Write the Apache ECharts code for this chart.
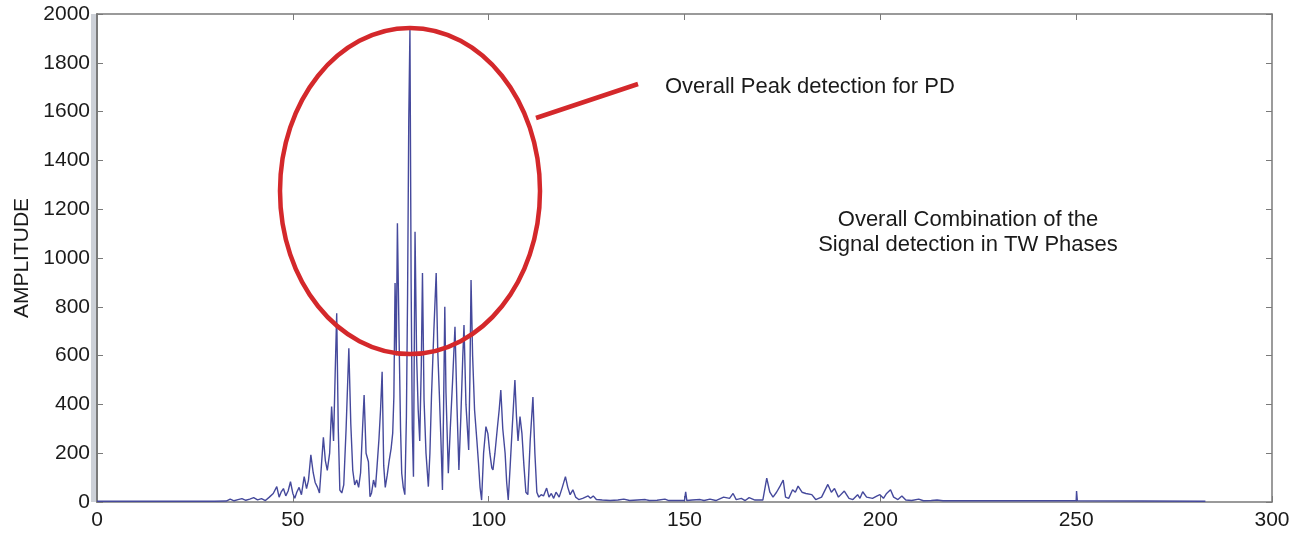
<!DOCTYPE html>
<html>
<head>
<meta charset="utf-8">
<script src="https://cdn.jsdelivr.net/npm/echarts@6/dist/echarts.min.js"></script>
<style>
html,body{margin:0;padding:0;background:#fff;}
#chart{width:1296px;height:535px;}
</style>
</head>
<body>
<div id="chart"></div>
<script>
// x positions of the samples
var sigX = [0,10,20,30,33,34,35,36,37,38,39,40,41,42,43,44,45,45.9,46.5,47,47.6,48.2,48.8,49.4,50,50.5,51,51.6,52.2,52.9,53.5,54,54.6,55.2,55.7,56.3,56.8,57.3,57.8,58.3,58.8,59.4,59.9,60.4,60.8,61.2,61.6,62,62.5,63,63.6,64.3,64.8,65.3,65.8,66.3,66.8,67.3,67.8,68.2,68.7,69.3,69.7,70.1,70.6,71.1,71.5,72,72.4,72.8,73.2,73.6,74.1,74.6,75.1,75.5,75.8,76.1,76.4,76.7,77.1,77.5,77.8,78.2,78.6,79,79.3,79.6,79.9,80.2,80.5,80.8,81.2,81.6,82,82.4,82.8,83.1,83.5,84,84.6,85,85.4,86,86.6,87,87.4,87.8,88.2,88.5,88.8,89.1,89.7,90.2,90.8,91.4,91.9,92.4,92.9,93.4,93.7,94.2,94.9,95.2,95.5,95.9,96.4,97,97.4,97.8,98.2,98.7,99.3,99.8,100.3,100.8,101.1,101.6,102.2,102.7,103.1,103.6,104.2,104.6,105,105.5,106,106.7,107.1,107.5,108,108.5,109,109.5,110,110.6,111.3,111.8,112.3,112.8,113.4,114,114.8,115.4,116,116.6,117.2,118,118.8,119.6,120.2,120.8,121.5,122.2,123,124,125.4,126,126.7,127.5,129,131,133,134.5,136,138,140,141,143,145,146,148,150,150.3,150.6,152,154,155,156.5,158,160,161.5,162.4,163.2,164.5,165.5,166.5,168,170,171,171.8,172.6,173.5,174.4,175.2,175.8,176.6,177.6,178.3,179,180,181,182.5,183.5,185,186.6,187.5,188.3,189.3,190.8,192,193,194.2,194.8,195.5,196.5,198,199.2,199.9,200.8,201.6,202.6,203.4,204.5,205.5,206.5,208,209.8,211,213,214.5,216,230,250,250.1,250.3,283];
// amplitude at each sample
var sigY = [3,3,3,3,4,12,5,10,14,7,12,18,9,14,6,20,35,63,20,40,55,25,45,83,35,15,40,60,30,104,55,90,193,120,80,60,37,150,265,170,130,200,391,250,520,774,300,49,37,70,300,630,320,130,70,90,60,120,300,438,200,165,22,37,90,60,145,260,380,534,150,60,110,170,220,282,432,897,600,1142,700,300,118,60,30,350,856,1566,1934,900,300,104,1108,600,380,250,560,938,418,200,63,200,432,700,938,620,446,260,49,400,800,450,118,300,500,718,400,131,350,600,725,400,213,500,910,600,377,250,160,60,8,200,309,280,200,140,131,200,300,380,459,300,200,80,8,150,300,500,350,250,350,280,150,40,30,250,430,200,40,20,30,25,57,20,35,15,40,20,60,104,60,30,50,20,10,15,25,15,25,10,8,6,8,12,6,8,10,6,7,12,6,6,6,42,6,8,10,6,12,6,20,15,35,10,15,6,18,8,8,98,40,20,40,65,90,20,15,50,40,65,40,35,30,10,20,72,40,55,20,45,15,10,30,15,42,20,15,25,30,15,35,50,20,10,25,8,6,12,5,6,8,5,5,5,45,5,3];

var xTicks = [0, 50, 100, 150, 200, 250, 300];
var yTicks = [0, 200, 400, 600, 800, 1000, 1200, 1400, 1600, 1800, 2000];

var peakNote = 'Overall Peak detection for PD';
var comboNote = ['Overall Combination of the', 'Signal detection in TW Phases'];

var points = [];
for (var i = 0; i < sigX.length; i++) {
	points.push([sigX[i], sigY[i]]);
}

var axisGray = '#7a7a7a';
var font = 'Liberation Sans, Arial, Helvetica, sans-serif';
var plain = function(v) { return String(v); };

var myChart = echarts.init(document.getElementById('chart'));
var option = {
	backgroundColor: '#fff',
	animation: false,
	grid: { left: 97, right: 24, top: 14, bottom: 33 },
	xAxis: [{
		type: 'value',
		min: xTicks[0], max: xTicks[xTicks.length - 1], interval: 50,
		axisLine: { onZero: false, lineStyle: { color: axisGray, width: 1.5 } },
		axisTick: { inside: true, length: 6, lineStyle: { color: axisGray } },
		axisLabel: { color: '#1a1a1a', fontSize: 21, fontFamily: font, margin: 8, formatter: plain },
		splitLine: { show: false }
	}, {
		type: 'value', position: 'top',
		min: xTicks[0], max: xTicks[xTicks.length - 1], interval: 50,
		axisLine: { show: true, onZero: false, lineStyle: { color: axisGray, width: 1.5 } },
		axisTick: { inside: true, length: 6, lineStyle: { color: axisGray } },
		axisLabel: { show: false },
		splitLine: { show: false }
	}],
	yAxis: [{
		type: 'value',
		min: yTicks[0], max: yTicks[yTicks.length - 1], interval: 200,
		name: 'AMPLITUDE', nameLocation: 'middle', nameGap: 62,
		nameTextStyle: { color: '#1a1a1a', fontSize: 21, fontFamily: font },
		axisLine: { show: true, onZero: false, lineStyle: { color: axisGray, width: 2 } },
		axisTick: { inside: true, length: 6, lineStyle: { color: axisGray } },
		axisLabel: { color: '#1a1a1a', fontSize: 21, fontFamily: font, margin: 7, formatter: plain },
		splitLine: { show: false }
	}, {
		type: 'value', position: 'right',
		min: yTicks[0], max: yTicks[yTicks.length - 1], interval: 200,
		axisLine: { show: true, onZero: false, lineStyle: { color: axisGray, width: 1.5 } },
		axisTick: { inside: true, length: 6, lineStyle: { color: axisGray } },
		axisLabel: { show: false },
		splitLine: { show: false }
	}],
	series: [{
		type: 'line',
		data: points,
		showSymbol: false,
		lineStyle: { color: '#45499c', width: 1.4 },
		z: 3
	}],
	graphic: [
		{ type: 'rect', left: 91, top: 14, shape: { width: 5, height: 488 }, style: { fill: '#cdd1d8' }, z: 0, silent: true },
		{ type: 'ellipse', shape: { cx: 410, cy: 191, rx: 130, ry: 163 }, style: { fill: 'none', stroke: '#d4282b', lineWidth: 4.5 }, z: 10 },
		{ type: 'line', shape: { x1: 536, y1: 118, x2: 638, y2: 84 }, style: { stroke: '#d4282b', lineWidth: 4.5 }, z: 10 },
		{ type: 'text', x: 665, y: 87, style: { text: peakNote, fill: '#1a1a1a', font: '22px ' + font, textVerticalAlign: 'middle' }, z: 10 },
		{ type: 'text', x: 968, y: 220, style: { text: comboNote[0], fill: '#1a1a1a', font: '22px ' + font, textAlign: 'center', textVerticalAlign: 'middle' }, z: 10 },
		{ type: 'text', x: 968, y: 245, style: { text: comboNote[1], fill: '#1a1a1a', font: '22px ' + font, textAlign: 'center', textVerticalAlign: 'middle' }, z: 10 }
	]
};
myChart.setOption(option);
</script>
</body>
</html>
